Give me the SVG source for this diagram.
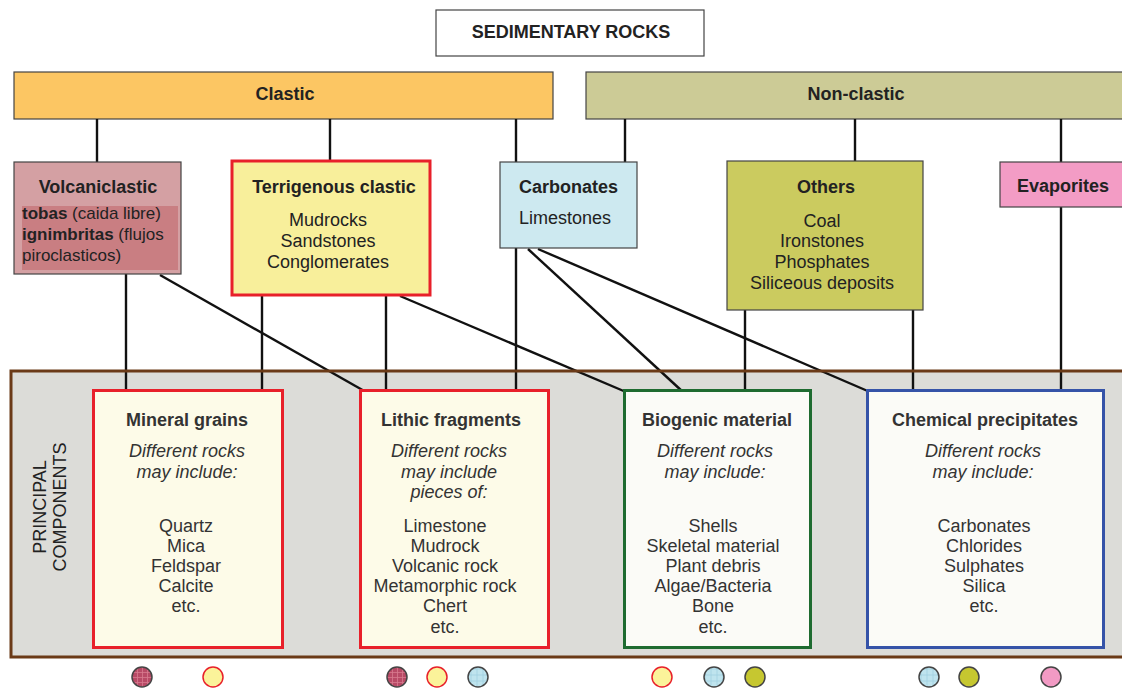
<svg xmlns="http://www.w3.org/2000/svg" width="1122" height="688" viewBox="0 0 1122 688">
<style>
text{font-family:"Liberation Sans",Arial,sans-serif;fill:#222}
.b{font-weight:bold}
.c{text-anchor:middle}
.t{font-size:18px}
.card text{font-size:18px;fill:#333;text-anchor:middle}
.i{font-style:italic}
.box{stroke:#444;stroke-width:1.2}
.con line{stroke:#111;stroke-width:2.4}
.dot{stroke:#444;stroke-width:1.5}
</style>
<defs>
<pattern id="hatch" width="5" height="5" patternUnits="userSpaceOnUse">
<rect width="5" height="5" fill="#b84a66"/>
<path d="M0 2.5H5M2.5 0V5" stroke="#d77a8e" stroke-width="0.8"/>
</pattern>
<pattern id="bhatch" width="6" height="6" patternUnits="userSpaceOnUse">
<rect width="6" height="6" fill="#bfe4ee"/>
<path d="M0 3H6M3 0V6" stroke="#9fcfe0" stroke-width="0.8"/>
</pattern>
</defs>
<rect width="1122" height="688" fill="#fff"/>

<g id="title"><rect x="436" y="10" width="268" height="46" fill="#fff" stroke="#444" stroke-width="1.2"/><text x="571" y="38" class="b c t">SEDIMENTARY ROCKS</text></g>

<g id="clastic"><rect class="box" x="14" y="72" width="539" height="47" fill="#fcc663"/><text x="285" y="100" class="b c t">Clastic</text></g>
<g id="nonclastic"><rect class="box" x="586" y="72" width="540" height="47" fill="#cccb96"/><text x="856" y="100" class="b c t">Non-clastic</text></g>

<rect id="panel-bg" x="11" y="371" width="1115" height="286" fill="#dcdcd8"/>

<g id="connectors" class="con">
<line x1="97" y1="119" x2="97" y2="162"/>
<line x1="330" y1="119" x2="330" y2="161"/>
<line x1="516" y1="119" x2="516" y2="162"/>
<line x1="625" y1="119" x2="625" y2="162"/>
<line x1="855" y1="119" x2="855" y2="161"/>
<line x1="1061" y1="119" x2="1061" y2="162"/>
<line x1="126" y1="274" x2="126" y2="391"/>
<line x1="160" y1="275" x2="366" y2="392"/>
<line x1="262" y1="296" x2="262" y2="391"/>
<line x1="386" y1="296" x2="386" y2="391"/>
<line x1="400" y1="296" x2="626" y2="392"/>
<line x1="516" y1="248" x2="516" y2="391"/>
<line x1="528" y1="249" x2="683" y2="392"/>
<line x1="538" y1="249" x2="870" y2="392"/>
<line x1="745" y1="310" x2="745" y2="391"/>
<line x1="913" y1="310" x2="913" y2="391"/>
<line x1="1061" y1="207" x2="1061" y2="391"/>
</g>

<rect id="panel-frame" x="11" y="371" width="1115" height="286" fill="none" stroke="#6b3a17" stroke-width="3"/>
<text id="panel-label" transform="translate(49 507) rotate(-90)" class="c" font-size="18" fill="#444"><tspan x="0" y="-3">PRINCIPAL</tspan><tspan x="0" y="17">COMPONENTS</tspan></text>

<g id="volcaniclastic">
<rect class="box" x="14" y="162" width="167" height="112" fill="#d4a0a3"/>
<rect x="22" y="206" width="156" height="64" fill="#c97e82"/>
<text x="98" y="193" class="b c t">Volcaniclastic</text>
<text x="22" y="219" font-size="17"><tspan class="b">tobas</tspan> (caida libre)</text>
<text x="22" y="240" font-size="17"><tspan class="b">ignimbritas</tspan> (flujos</text>
<text x="22" y="261" font-size="17">piroclasticos)</text>
</g>

<g id="terrigenous">
<rect x="232" y="161" width="198" height="134" fill="#f8ef9b" stroke="#e8202a" stroke-width="3"/>
<text x="334" y="193" class="b c t">Terrigenous clastic</text>
<text x="328" y="226" class="c t">Mudrocks</text>
<text x="328" y="247" class="c t">Sandstones</text>
<text x="328" y="268" class="c t">Conglomerates</text>
</g>

<g id="carbonates">
<rect class="box" x="500" y="162" width="137" height="86" fill="#cde9f0"/>
<text x="519" y="193" class="b t">Carbonates</text>
<text x="519" y="224" class="t">Limestones</text>
</g>

<g id="others">
<rect class="box" x="727" y="161" width="196" height="149" fill="#cbcb5f"/>
<text x="826" y="193" class="b c t">Others</text>
<text x="822" y="227" class="c t">Coal</text>
<text x="822" y="247" class="c t">Ironstones</text>
<text x="822" y="268" class="c t">Phosphates</text>
<text x="822" y="289" class="c t">Siliceous deposits</text>
</g>

<g id="evaporites">
<rect class="box" x="1000" y="162" width="126" height="45" fill="#f39cc5"/>
<text x="1063" y="192" class="b c t">Evaporites</text>
</g>

<g id="mineral" class="card">
<rect x="93.5" y="390.5" width="189" height="257" fill="#fdfbe8" stroke="#e8202a" stroke-width="3"/>
<text x="187" y="426" class="b">Mineral grains</text>
<text x="187" y="457" class="i">Different rocks</text>
<text x="187" y="478" class="i">may include:</text>
<text x="186" y="532">Quartz</text>
<text x="186" y="552">Mica</text>
<text x="186" y="572">Feldspar</text>
<text x="186" y="592">Calcite</text>
<text x="186" y="612">etc.</text>
</g>

<g id="lithic" class="card">
<rect x="360.5" y="390.5" width="188" height="257" fill="#fdfbe8" stroke="#e8202a" stroke-width="3"/>
<text x="451" y="426" class="b">Lithic fragments</text>
<text x="449" y="457" class="i">Different rocks</text>
<text x="449" y="478" class="i">may include</text>
<text x="449" y="498" class="i">pieces of:</text>
<text x="445" y="532">Limestone</text>
<text x="445" y="552">Mudrock</text>
<text x="445" y="572">Volcanic rock</text>
<text x="445" y="592">Metamorphic rock</text>
<text x="445" y="612">Chert</text>
<text x="445" y="633">etc.</text>
</g>

<g id="biogenic" class="card">
<rect x="624.5" y="390.5" width="186" height="257" fill="#fbfbf7" stroke="#1e6b30" stroke-width="3"/>
<text x="717" y="426" class="b">Biogenic material</text>
<text x="715" y="457" class="i">Different rocks</text>
<text x="715" y="478" class="i">may include:</text>
<text x="713" y="532">Shells</text>
<text x="713" y="552">Skeletal material</text>
<text x="713" y="572">Plant debris</text>
<text x="713" y="592">Algae/Bacteria</text>
<text x="713" y="612">Bone</text>
<text x="713" y="633">etc.</text>
</g>

<g id="chemical" class="card">
<rect x="867.5" y="390.5" width="236" height="257" fill="#fbfbf7" stroke="#3553a8" stroke-width="3"/>
<text x="985" y="426" class="b">Chemical precipitates</text>
<text x="983" y="457" class="i">Different rocks</text>
<text x="983" y="478" class="i">may include:</text>
<text x="984" y="532">Carbonates</text>
<text x="984" y="552">Chlorides</text>
<text x="984" y="572">Sulphates</text>
<text x="984" y="592">Silica</text>
<text x="984" y="612">etc.</text>
</g>

<g id="legend-dots">
<circle class="dot" cx="142" cy="677" r="10" fill="url(#hatch)"/>
<circle cx="213" cy="677" r="10" fill="#fbf39a" stroke="#e8202a" stroke-width="1.5"/>
<circle class="dot" cx="397" cy="677" r="10" fill="url(#hatch)"/>
<circle cx="437" cy="677" r="10" fill="#fbf39a" stroke="#e8202a" stroke-width="1.5"/>
<circle class="dot" cx="478" cy="677" r="10" fill="url(#bhatch)"/>
<circle cx="662" cy="677" r="10" fill="#fbf39a" stroke="#e8202a" stroke-width="1.5"/>
<circle class="dot" cx="714" cy="677" r="10" fill="url(#bhatch)"/>
<circle class="dot" cx="755" cy="677" r="10" fill="#c6c730"/>
<circle class="dot" cx="929" cy="677" r="10" fill="url(#bhatch)"/>
<circle class="dot" cx="969" cy="677" r="10" fill="#c6c730"/>
<circle class="dot" cx="1051" cy="677" r="10" fill="#f29ac4"/>
</g>
</svg>
